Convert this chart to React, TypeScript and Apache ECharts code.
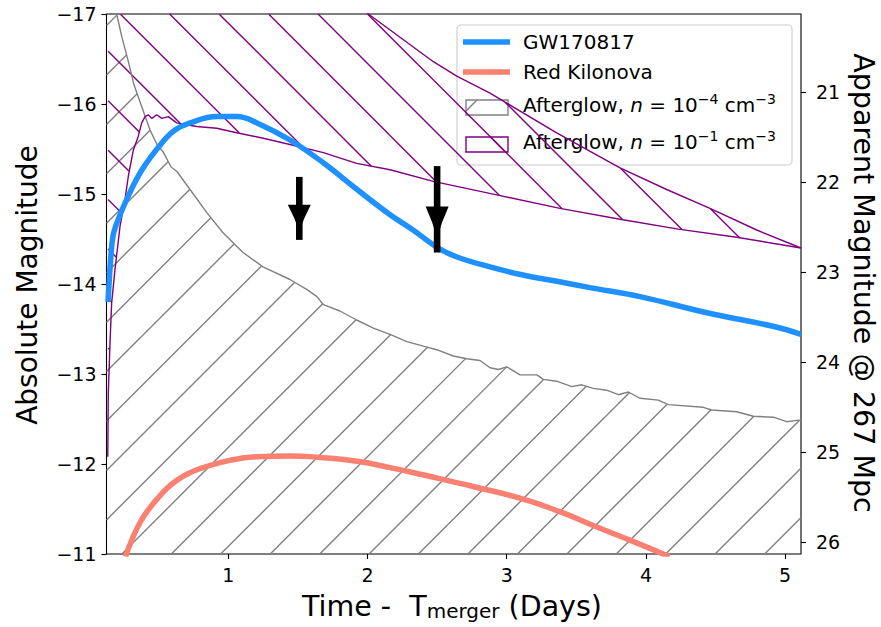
import React, { useEffect, useRef } from 'react';
import * as echarts from 'echarts';

// ---------------- data ----------------
const xTicks = [1, 2, 3, 4, 5];
const absTicks = [-17, -16, -15, -14, -13, -12, -11];
const appTicks = [21, 22, 23, 24, 25, 26];
const distanceModulus = 37.13; // 267 Mpc

const gwX = [0.136, 0.165, 0.186, 0.279, 0.38, 0.524, 0.617, 0.725, 0.919, 1.062, 1.206, 1.443, 1.68, 1.925, 2.162, 2.327, 2.507, 2.643, 2.88, 3.117, 3.361, 3.599, 3.958, 4.439, 4.913, 5.114];
const gwY = [-13.8, -14.46, -14.62, -14.97, -15.27, -15.57, -15.71, -15.79, -15.86, -15.86, -15.79, -15.6, -15.35, -15.05, -14.77, -14.6, -14.4, -14.3, -14.19, -14.1, -14.03, -13.96, -13.86, -13.68, -13.53, -13.44];

const redX = [0.262, 0.31, 0.366, 0.42, 0.488, 0.56, 0.631, 0.72, 0.818, 1.012, 1.206, 1.443, 1.68, 1.925, 2.162, 2.399, 2.593, 2.758, 3.095, 3.382, 3.648, 3.907, 4.17];
const redY = [-10.97, -11.17, -11.35, -11.48, -11.61, -11.73, -11.82, -11.9, -11.96, -12.04, -12.08, -12.09, -12.07, -12.03, -11.96, -11.88, -11.81, -11.75, -11.62, -11.47, -11.3, -11.14, -10.97];

// Afterglow n = 1e-4 (bright edge of the region; region extends to fainter magnitudes)
const ag4X = [0.125, 0.198, 0.236, 0.279, 0.323, 0.38, 0.438, 0.488, 0.531, 0.589, 0.631, 0.725, 0.847, 0.962, 1.106, 1.249, 1.443, 1.563, 1.637, 1.683, 1.802, 1.922, 2.042, 2.162, 2.282, 2.401, 2.497, 2.616, 2.713, 2.808, 2.88, 2.94, 3.0, 3.096, 3.216, 3.263, 3.359, 3.467, 3.539, 3.622, 3.718, 3.802, 3.874, 3.958, 4.089, 4.161, 4.412, 4.473, 4.652, 4.772, 4.915, 5.012, 5.114];
const ag4Y = [-17.5, -17.0, -16.74, -16.49, -16.21, -15.96, -15.71, -15.55, -15.47, -15.3, -15.25, -15.05, -14.79, -14.57, -14.35, -14.19, -14.05, -13.94, -13.86, -13.77, -13.7, -13.6, -13.51, -13.44, -13.36, -13.31, -13.27, -13.2, -13.17, -13.15, -13.07, -13.05, -13.08, -12.99, -12.99, -12.94, -12.92, -12.86, -12.88, -12.84, -12.82, -12.77, -12.8, -12.73, -12.71, -12.66, -12.63, -12.6, -12.58, -12.53, -12.52, -12.47, -12.49];

// Afterglow n = 1e-1 : faint edge and bright edge
const ag1LoX = [0.134, 0.138, 0.15, 0.162, 0.186, 0.222, 0.258, 0.282, 0.318, 0.353, 0.378, 0.402, 0.425, 0.451, 0.486, 0.522, 0.569, 0.629, 0.701, 0.773, 0.917, 1.06, 1.251, 1.443, 1.683, 1.922, 2.162, 2.473, 2.928, 3.383, 3.814, 4.233, 4.652, 5.114];
const ag1LoY = [-12.08, -12.79, -13.34, -13.79, -14.16, -14.64, -14.94, -15.2, -15.49, -15.64, -15.79, -15.86, -15.88, -15.84, -15.88, -15.84, -15.86, -15.79, -15.77, -15.75, -15.73, -15.68, -15.62, -15.55, -15.46, -15.34, -15.27, -15.14, -14.99, -14.84, -14.72, -14.61, -14.52, -14.4];
const ag1UpX = [0.134, 0.5, 1.0, 1.5, 2.006, 2.473, 2.641, 2.88, 3.359, 3.814, 4.149, 4.46, 4.796, 5.114];
const ag1UpY = [-19.3, -18.8, -18.2, -17.6, -17.0, -16.47, -16.31, -16.12, -15.68, -15.29, -15.05, -14.84, -14.6, -14.4];

// upper-limit arrows
const arrowX = [1.51, 2.5];
const arrowTop = [-15.19, -15.31];
const arrowBottom = [-14.49, -14.35];
const arrowHeadBase = [-14.88, -14.86];
const arrowHeadTip = [-14.58, -14.51];

const legendNames = ['GW170817', 'Red Kilonova'];

// ---------------- styling ----------------
const FF = "'DejaVu Sans', sans-serif";
const BLUE = '#1E90FF';
const SALMON = '#FA8072';
const GRAY = '#808080';
const PURPLE = '#800080';
const HATCH_SP = 49.44;
const GRAY_C0 = 725.3; // x + y = c
const PURPLE_C0 = 155.7; // x - y = c

const fmtMinus = (v: number) => (v < 0 ? '\u2212' + Math.abs(v) : String(v));

type Seg = [number, number, number, number];

function hatchLines(kind: '/' | '\\', c0: number, sp: number, x0: number, x1: number, y0: number, y1: number, inside: (x: number, y: number) => boolean): Seg[] {
  const segs: Seg[] = [];
  let cMin: number, cMax: number;
  if (kind === '/') { cMin = x0 + y0; cMax = x1 + y1; } else { cMin = x0 - y1; cMax = x1 - y0; }
  const kS = Math.ceil((cMin - c0) / sp);
  const kE = Math.floor((cMax - c0) / sp);
  const step = 0.4;
  for (let k = kS; k <= kE; k++) {
    const c = c0 + k * sp;
    let start: number[] | null = null;
    let prev: number[] | null = null;
    for (let x = x0; x <= x1 + 1e-9; x += step) {
      const y = kind === '/' ? c - x : x - c;
      const ok = y >= y0 && y <= y1 && inside(x, y);
      if (ok) {
        if (!start) start = [x, y];
        prev = [x, y];
      } else if (start && prev) {
        segs.push([start[0], start[1], prev[0], prev[1]]);
        start = null;
      }
    }
    if (start && prev) segs.push([start[0], start[1], prev[0], prev[1]]);
  }
  return segs;
}

function interp(pts: number[][], x: number): number {
  if (x <= pts[0][0]) return pts[0][1];
  for (let i = 1; i < pts.length; i++) {
    if (x <= pts[i][0]) {
      const t = (x - pts[i - 1][0]) / (pts[i][0] - pts[i - 1][0]);
      return pts[i - 1][1] + t * (pts[i][1] - pts[i - 1][1]);
    }
  }
  return pts[pts.length - 1][1];
}

const segsToLines = (segs: Seg[], color: string) =>
  segs.map((s) => ({
    type: 'line',
    shape: { x1: s[0], y1: s[1], x2: s[2], y2: s[3] },
    style: { stroke: color, lineWidth: 1.4 },
    silent: true,
  }));

const zip = (xs: number[], ys: number[]) => xs.map((x, i) => [x, ys[i]]);

export default function App() {
  const ref = useRef<HTMLDivElement>(null);
  useEffect(() => {
    if (!ref.current) return;
    const chart = echarts.init(ref.current, undefined, { renderer: 'svg' });

    // legend handles hatch (same global hatch phase as the plot)
    const lgGray = { x: 466, y: 100, w: 42, h: 15 };
    const lgPurple = { x: 466, y: 137, w: 42, h: 15 };
    const lgGraySegs = hatchLines('/', GRAY_C0, HATCH_SP, lgGray.x, lgGray.x + lgGray.w, lgGray.y, lgGray.y + lgGray.h, () => true);
    const lgPurpleSegs = hatchLines('\\', PURPLE_C0, HATCH_SP, lgPurple.x, lgPurple.x + lgPurple.w, lgPurple.y, lgPurple.y + lgPurple.h, () => true);

    const supRich = {
      a: { fontSize: 20, fontFamily: FF, fill: '#000', lineHeight: 26 },
      i: { fontSize: 20, fontFamily: FF, fill: '#000', fontStyle: 'italic', lineHeight: 26 },
      s: { fontSize: 14, fontFamily: FF, fill: '#000', lineHeight: 14, verticalAlign: 'top' },
    };

    const option: any = {
      animation: false,
      backgroundColor: '#ffffff',
      grid: { left: 106.5, right: 80, top: 14, bottom: 73, show: true, borderColor: '#000', borderWidth: 1.1, backgroundColor: 'transparent' },
      xAxis: {
        type: 'value', min: 0.125, max: 5.114,
        axisLine: { show: false }, splitLine: { show: false },
        axisTick: { show: true, length: 5, lineStyle: { color: '#000', width: 1.1 }, customValues: xTicks },
        axisLabel: { customValues: xTicks, fontSize: 19, color: '#000', fontFamily: FF, margin: 11 },
      },
      yAxis: [
        {
          type: 'value', min: absTicks[0], max: absTicks[absTicks.length - 1], interval: 1, inverse: true,
          axisLine: { show: false }, splitLine: { show: false },
          axisTick: { show: true, length: 5, lineStyle: { color: '#000', width: 1.1 } },
          axisLabel: { fontSize: 19, color: '#000', fontFamily: FF, margin: 10, formatter: (v: number) => fmtMinus(v) },
        },
        {
          type: 'value', position: 'right', min: absTicks[0] + distanceModulus, max: absTicks[absTicks.length - 1] + distanceModulus, inverse: true,
          axisLine: { show: false }, splitLine: { show: false },
          axisTick: { show: true, length: 5, lineStyle: { color: '#000', width: 1.1 }, customValues: appTicks },
          axisLabel: { customValues: appTicks, fontSize: 19, color: '#000', fontFamily: FF, margin: 15, formatter: (v: number) => String(Math.round(v)) },
        },
      ],
      series: [
        {
          type: 'custom', name: 'hatch', z: 1, silent: true,
          coordinateSystem: 'cartesian2d', xAxisIndex: 0, yAxisIndex: 0,
          data: [[1, -14]], encode: { x: 0, y: 1 },
          renderItem: (params: any, api: any) => {
            const cs = params.coordSys;
            const x0 = cs.x, x1 = cs.x + cs.width, y0 = cs.y, y1 = cs.y + cs.height;
            const toPx = (xs: number[], ys: number[]) => xs.map((x, i) => api.coord([x, ys[i]]));
            const g = toPx(ag4X, ag4Y);
            const lo = toPx(ag1LoX, ag1LoY);
            const up = toPx(ag1UpX, ag1UpY);
            const graySegs = hatchLines('/', GRAY_C0, HATCH_SP, x0, x1, y0, y1, (x, y) => y >= interp(g, x));
            const purpleSegs = hatchLines('\\', PURPLE_C0, HATCH_SP, x0, x1, y0, y1, (x, y) => x >= lo[0][0] && x <= lo[lo.length - 1][0] && y <= interp(lo, x) && y >= interp(up, x));
            return { type: 'group', children: [...segsToLines(graySegs, GRAY), ...segsToLines(purpleSegs, PURPLE)] };
          },
        },
        { type: 'line', name: 'ag4', z: 2, data: zip(ag4X, ag4Y), showSymbol: false, symbol: 'none', lineStyle: { color: GRAY, width: 1.4 }, silent: true },
        { type: 'line', name: 'ag1lo', z: 2, data: zip(ag1LoX, ag1LoY), showSymbol: false, symbol: 'none', lineStyle: { color: PURPLE, width: 1.4 }, silent: true },
        { type: 'line', name: 'ag1up', z: 2, data: zip(ag1UpX, ag1UpY), showSymbol: false, symbol: 'none', lineStyle: { color: PURPLE, width: 1.4 }, silent: true },
        { type: 'line', name: legendNames[1], z: 3, data: zip(redX, redY), smooth: 0.5, showSymbol: false, symbol: 'none', lineStyle: { color: SALMON, width: 5.5 }, silent: true },
        { type: 'line', name: legendNames[0], z: 4, data: zip(gwX, gwY), smooth: 0.4, showSymbol: false, symbol: 'none', lineStyle: { color: BLUE, width: 5.5 }, silent: true },
        {
          type: 'custom', name: 'limits', z: 5, silent: true,
          coordinateSystem: 'cartesian2d',
          data: arrowX.map((x, i) => [x, arrowTop[i], arrowBottom[i], arrowHeadBase[i], arrowHeadTip[i]]),
          encode: { x: 0, y: [1, 2] },
          renderItem: (params: any, api: any) => {
            const x = api.value(0);
            const top = api.coord([x, api.value(1)]);
            const bot = api.coord([x, api.value(2)]);
            const hb = api.coord([x, api.value(3)]);
            const ht = api.coord([x, api.value(4)]);
            const cx = top[0];
            const hw = 11.5;
            const hh = ht[1] - hb[1];
            return {
              type: 'group',
              children: [
                { type: 'rect', shape: { x: cx - 3.3, y: top[1], width: 6.6, height: bot[1] - top[1] }, style: { fill: '#000' } },
                {
                  type: 'polygon',
                  shape: { points: [[cx - hw, hb[1]], [cx + hw, hb[1]], [cx + 5, hb[1] + hh * 0.5], [cx, ht[1]], [cx - 5, hb[1] + hh * 0.5]] },
                  style: { fill: '#000' },
                },
              ],
            };
          },
        },
      ],
      graphic: [
        // axis titles
        { type: 'text', x: 27, y: 285, rotation: Math.PI / 2, style: { text: 'Absolute Magnitude', fontSize: 28, fontFamily: FF, fill: '#000', align: 'center', verticalAlign: 'middle' }, z: 10 },
        { type: 'text', x: 863, y: 283, rotation: -Math.PI / 2, style: { text: 'Apparent Magnitude @ 267 Mpc', fontSize: 28.5, fontFamily: FF, fill: '#000', align: 'center', verticalAlign: 'middle' }, z: 10 },
        {
          type: 'text', x: 452, y: 606, z: 10,
          style: {
            text: '{a|Time -  T}{s|merger}{a| (Days)}', align: 'center', verticalAlign: 'middle',
            rich: {
              a: { fontSize: 28.5, fontFamily: FF, fill: '#000', lineHeight: 30 },
              s: { fontSize: 20, fontFamily: FF, fill: '#000', lineHeight: 21, verticalAlign: 'bottom' },
            },
          },
        },
        // legend
        {
          type: 'group', z: 20,
          children: [
            { type: 'rect', shape: { x: 457, y: 25, width: 335, height: 140, r: 4 }, style: { fill: 'rgba(255,255,255,0.8)', stroke: '#cccccc', lineWidth: 1.1 } },
            { type: 'line', shape: { x1: 463, y1: 42, x2: 510, y2: 42 }, style: { stroke: BLUE, lineWidth: 5.5 } },
            { type: 'line', shape: { x1: 463, y1: 72, x2: 510, y2: 72 }, style: { stroke: SALMON, lineWidth: 5.5 } },
            { type: 'rect', shape: { x: lgGray.x, y: lgGray.y, width: lgGray.w, height: lgGray.h }, style: { fill: 'none', stroke: GRAY, lineWidth: 1.4 } },
            ...segsToLines(lgGraySegs, GRAY),
            { type: 'rect', shape: { x: lgPurple.x, y: lgPurple.y, width: lgPurple.w, height: lgPurple.h }, style: { fill: 'none', stroke: PURPLE, lineWidth: 1.4 } },
            ...segsToLines(lgPurpleSegs, PURPLE),
            { type: 'text', x: 523, y: 42, style: { text: legendNames[0], fontSize: 20, fontFamily: FF, fill: '#000', verticalAlign: 'middle' } },
            { type: 'text', x: 523, y: 72, style: { text: legendNames[1], fontSize: 20, fontFamily: FF, fill: '#000', verticalAlign: 'middle' } },
            { type: 'text', x: 523, y: 105, style: { text: '{a|Afterglow, }{i|n}{a| = 10}{s|\u22124}{a| cm}{s|\u22123}', verticalAlign: 'middle', rich: supRich } },
            { type: 'text', x: 523, y: 142, style: { text: '{a|Afterglow, }{i|n}{a| = 10}{s|\u22121}{a| cm}{s|\u22123}', verticalAlign: 'middle', rich: supRich } },
          ],
        },
      ],
    };
    chart.setOption(option);
    return () => chart.dispose();
  }, []);
  return <div ref={ref} style={{ position: 'fixed', left: 0, top: 0, width: 881, height: 627 }} />;
}
